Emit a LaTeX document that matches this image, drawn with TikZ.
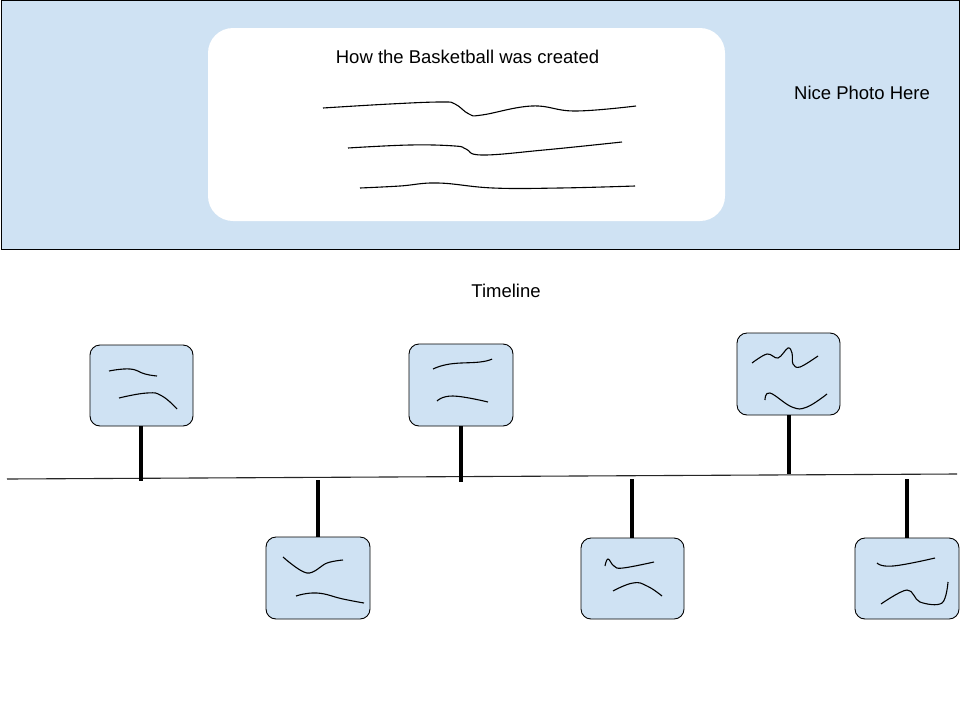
\documentclass[tikz,border=0pt]{standalone}
\usepackage{fontspec}
\setmainfont{Liberation Sans}
\definecolor{paleblue}{RGB}{207,226,243}
\begin{document}
\begin{tikzpicture}[x=1pt,y=-1pt,
  txt/.style={inner sep=0pt, font=\fontsize{18.5}{22}\selectfont},
  card/.style={draw=black, fill=paleblue, rounded corners=10pt, line width=0.9pt, inner sep=0pt},
  stem/.style={line width=4pt, black},
  sq/.style={line width=1.1pt, black},
  tl/.style={line width=1.1pt, black!85}]
\useasboundingbox (0,0) rectangle (960,720);
\fill[white] (0,0) rectangle (960,720);
% banner
\node[draw=black, fill=paleblue, line width=1pt, minimum width=958pt, minimum height=249pt, inner sep=0pt] (banner) at (480,125) {};
\node[fill=white, rounded corners=25pt, minimum width=517pt, minimum height=193pt, inner sep=0pt] (panel) at (466.5,124.5) {};
\node[txt] (title) at (467.5,57) {How the Basketball was created};
\node[txt] (photo) at (862,93) {Nice Photo Here};
\draw[sq] plot[smooth, tension=0.7] coordinates {(323,108) (390,104) (441,102) (455,104) (469,114) (482,115) (532,106) (575,111) (636,106)};
\draw[sq] plot[smooth, tension=0.7] coordinates {(348,148) (410,145) (455,146) (466,149) (482,155) (544,150) (622,142)};
\draw[sq] plot[smooth, tension=0.7] coordinates {(360,188) (400,186) (438,183) (493,188) (560,188) (635,186)};
% timeline
\node[txt] (tltitle) at (506,291) {Timeline};
\coordinate (tlL) at (7,479);
\coordinate (tlR) at (957,474);
\draw[tl] (tlL) -- (tlR);
% cards
\node[card, minimum width=103pt, minimum height=81pt] (b1) at (141.5,385.5) {};
\node[card, minimum width=104pt, minimum height=82pt] (b2) at (318,578) {};
\node[card, minimum width=104pt, minimum height=82pt] (b3) at (461,385) {};
\node[card, minimum width=103pt, minimum height=81pt] (b4) at (632.5,578.5) {};
\node[card, minimum width=103pt, minimum height=82pt] (b5) at (788.5,374) {};
\node[card, minimum width=104pt, minimum height=81pt] (b6) at (907,578.5) {};
% stems
\coordinate (t1) at (141,481);
\coordinate (t2) at (318,480);
\coordinate (t3) at (461,482);
\coordinate (t4) at (632,479);
\coordinate (t5) at (789,474);
\coordinate (t6) at (907,479);
\draw[stem] (b1.south -| t1) -- (t1);
\draw[stem] (t2) -- (b2.north -| t2);
\draw[stem] (b3.south -| t3) -- (t3);
\draw[stem] (t4) -- (b4.north -| t4);
\draw[stem] (b5.south -| t5) -- (t5);
\draw[stem] (t6) -- (b6.north -| t6);
% squiggles in cards
\draw[sq] plot[smooth, tension=0.8] coordinates {(109,371) (130,369) (145,374) (157,376)};
\draw[sq] plot[smooth, tension=0.8] coordinates {(119,398) (147,393) (162,396) (177,409)};
\draw[sq] plot[smooth, tension=0.6] coordinates {(283,557) (307,573) (327,563) (343,560)};
\draw[sq] plot[smooth, tension=0.8] coordinates {(296,596) (317,593) (343,599) (364,603)};
\draw[sq] plot[smooth, tension=0.8] coordinates {(433,369) (450,364) (480,362) (492,359)};
\draw[sq] plot[smooth, tension=0.8] coordinates {(437,401) (453,396) (488,402)};
\draw[sq] plot[smooth, tension=0.7] coordinates {(605,566) (608,559) (614,566) (623,568) (654,562)};
\draw[sq] plot[smooth, tension=0.8] coordinates {(613,591) (633,583) (647,586) (662,596)};
\draw[sq] plot[smooth, tension=0.6] coordinates {(752,363) (767,354) (778,358) (788,348) (792,353) (793,364) (800,367) (818,356)};
\draw[sq] plot[smooth, tension=0.7] coordinates {(765,400) (770,393) (792,407) (807,407) (827,394)};
\draw[sq] plot[smooth, tension=0.8] coordinates {(877,563) (893,566) (935,558)};
\draw[sq] plot[smooth, tension=0.6] coordinates {(881,604) (907,590) (920,602) (942,603) (948,582)};
\end{tikzpicture}
\end{document}
